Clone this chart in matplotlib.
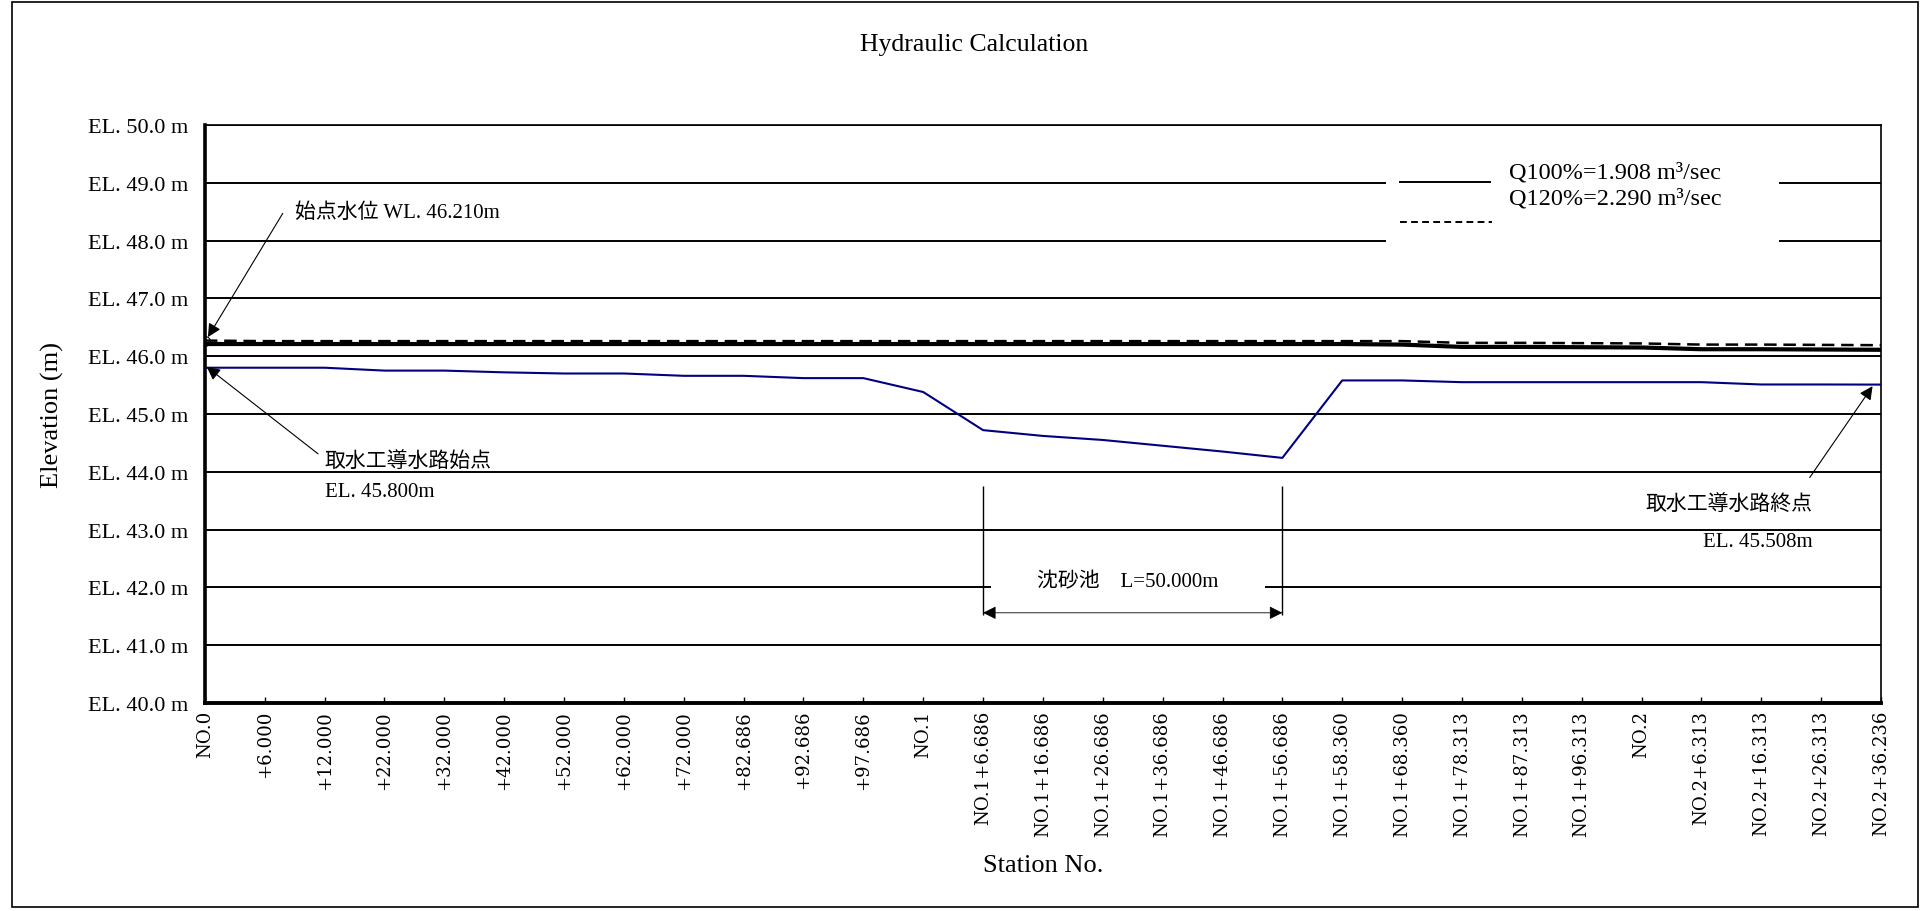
import matplotlib
matplotlib.use('Agg')
from matplotlib import pyplot as plt
from matplotlib.patches import Rectangle
from matplotlib.lines import Line2D

# station labels (category axis)
stations = ['NO.0', '+6.000', '+12.000', '+22.000', '+32.000', '+42.000', '+52.000',
            '+62.000', '+72.000', '+82.686', '+92.686', '+97.686', 'NO.1',
            'NO.1+6.686', 'NO.1+16.686', 'NO.1+26.686', 'NO.1+36.686', 'NO.1+46.686',
            'NO.1+56.686', 'NO.1+58.360', 'NO.1+68.360', 'NO.1+78.313', 'NO.1+87.313',
            'NO.1+96.313', 'NO.2', 'NO.2+6.313', 'NO.2+16.313', 'NO.2+26.313', 'NO.2+36.236']

# bed elevation (m)
bed = [45.80, 45.80, 45.80, 45.75, 45.75, 45.72, 45.70, 45.70, 45.66, 45.66,
       45.62, 45.62, 45.38, 44.72, 44.62, 44.55, 44.45, 44.35, 44.24, 45.58,
       45.58, 45.55, 45.55, 45.55, 45.55, 45.55, 45.51, 45.51, 45.508]

# water level Q100% and Q120%
q100 = [46.21, 46.21, 46.21, 46.21, 46.21, 46.21, 46.21, 46.21, 46.21, 46.21,
        46.21, 46.21, 46.21, 46.21, 46.21, 46.21, 46.21, 46.21, 46.21, 46.21,
        46.20, 46.16, 46.16, 46.155, 46.15, 46.12, 46.12, 46.115, 46.11]
q120 = [46.27, 46.26, 46.26, 46.26, 46.26, 46.26, 46.26, 46.26, 46.26, 46.26,
        46.26, 46.26, 46.26, 46.26, 46.26, 46.26, 46.26, 46.26, 46.26, 46.26,
        46.26, 46.23, 46.23, 46.225, 46.22, 46.20, 46.20, 46.195, 46.19]

legend_labels = ['Q100%=1.908 m\u00b3/sec', 'Q120%=2.290 m\u00b3/sec']
y_ticks = [40, 41, 42, 43, 44, 45, 46, 47, 48, 49, 50]

SERIF = ['Liberation Serif', 'Noto Sans CJK JP']
plt.rcParams['font.family'] = SERIF

x = list(range(len(stations)))

fig = plt.figure(figsize=(19.26, 9.12), dpi=100)
ax = fig.add_axes([0.1064, 0.2281, 0.8702, 0.6338])

ax.plot(x, bed, color='#000080', lw=1.5, zorder=3)
ax.plot(x, q100, color='black', lw=3.0, zorder=3)
ax.plot(x, q120, color='black', lw=1.8, dashes=(5, 2.7), zorder=3,
        marker='o', markevery=[0], markersize=7, markerfacecolor='none',
        markeredgewidth=0.8)

ax.set_xlim(0, len(stations) - 1)
ax.set_ylim(40, 50)
ax.set_yticks(y_ticks)
ax.set_yticklabels(['EL. %.1f m' % v for v in y_ticks], fontsize=16)
ax.set_xticks(x)
ax.set_xticklabels(stations, rotation=90, fontsize=13.1, family='DejaVu Serif',
                   va='top', ha='center')
ax.tick_params(axis='y', length=0, pad=12)
ax.tick_params(axis='x', direction='in', length=4, width=1, pad=5)

ax.set_axisbelow(True)
ax.grid(axis='y', color='black', lw=1.4)
ax.grid(axis='x', visible=False)

ax.spines['left'].set_linewidth(2.6)
ax.spines['bottom'].set_linewidth(2.8)
ax.spines['top'].set_linewidth(1.2)
ax.spines['right'].set_linewidth(1.2)

# titles
fig.text(0.506, 0.951, 'Hydraulic Calculation', ha='center', va='center', fontsize=18.5)
fig.text(0.027, 0.545, 'Elevation (m)', rotation=90, ha='center', va='center', fontsize=19)
fig.text(0.5415, 0.0504, 'Station No.', ha='center', va='center', fontsize=19)

# legend (drawn by hand to keep the original layout)
ax.add_patch(Rectangle((0.7045, 0.771), 0.2345, 0.18, transform=ax.transAxes,
                       facecolor='white', edgecolor='none', zorder=1.5))
ax.add_line(Line2D([0.713, 0.767], [0.902, 0.902], transform=ax.transAxes,
                   color='black', lw=1.4, zorder=4))
ax.add_line(Line2D([0.713, 0.768], [0.832, 0.832], transform=ax.transAxes,
                   color='black', lw=1.4, dashes=(3.5, 2.2), zorder=4))
ax.text(0.778, 0.919, legend_labels[0], transform=ax.transAxes, fontsize=17.5,
        va='center', ha='left', zorder=4)
ax.text(0.778, 0.873, legend_labels[1], transform=ax.transAxes, fontsize=17.5,
        va='center', ha='left', zorder=4)

arrow = dict(arrowstyle='-|>', color='black', lw=0.8, mutation_scale=20,
             shrinkA=0, shrinkB=0)

# start water level
ax.annotate('', xy=(0.05, 46.33), xytext=(1.3, 48.47), arrowprops=arrow, zorder=5)
ax.text(1.5, 48.49, '始点水位 WL. 46.210m', fontsize=15, va='center', ha='left',
        family=SERIF)

# start of canal
ax.annotate('', xy=(0.03, 45.815), xytext=(1.89, 44.31), arrowprops=arrow, zorder=5)
ax.text(2.0, 44.19, '取水工導水路始点', fontsize=15, va='center', ha='left',
        family=SERIF)
ax.text(2.0, 43.65, 'EL. 45.800m', fontsize=15, va='center', ha='left')

# end of canal
ax.annotate('', xy=(27.86, 45.48), xytext=(26.81, 43.9), arrowprops=arrow, zorder=5)
ax.text(26.86, 43.42, '取水工導水路終点', fontsize=15, va='center', ha='right',
        family=SERIF)
ax.text(26.86, 42.79, 'EL. 45.508m', fontsize=15, va='center', ha='right')

# settling basin dimension
ax.vlines([13, 18], 41.52, 43.75, color='black', lw=1.0, zorder=4)
ax.annotate('', xy=(13, 41.56), xytext=(18, 41.56), zorder=5,
            arrowprops=dict(arrowstyle='<|-|>', color='black', lw=0.6,
                            mutation_scale=20, shrinkA=0, shrinkB=0))
ax.add_patch(Rectangle((13.14, 41.85), 4.57, 0.4, facecolor='white',
                       edgecolor='none', zorder=1.5))
ax.text(15.42, 42.095, '沈砂池\u3000L=50.000m', fontsize=15, va='center',
        ha='center', family=SERIF, zorder=4)

# outer chart border
fig.patches.append(Rectangle((0.0062, 0.004), 0.9896, 0.9927, transform=fig.transFigure,
                             fill=False, edgecolor='black', lw=1.2))

fig.savefig('out.png', dpi=100)
plt.close(fig)
